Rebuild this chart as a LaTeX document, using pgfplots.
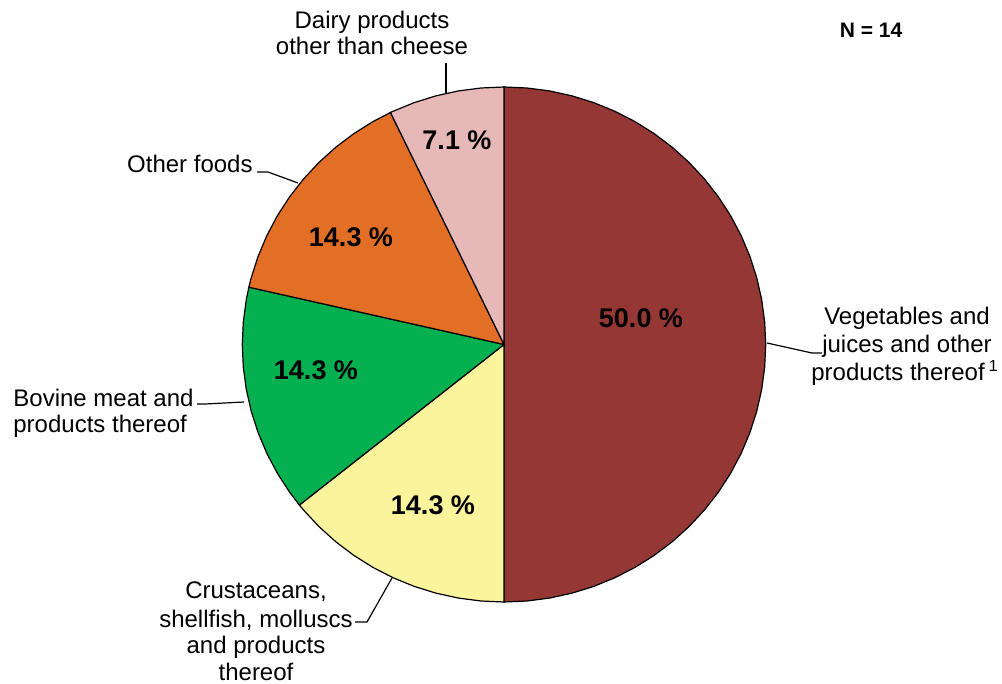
\documentclass[border=0pt]{standalone}
\usepackage{pgfplots}
\pgfplotsset{compat=1.18}
\usepgfplotslibrary{polar}
\usepackage{fontspec}
\setmainfont{Liberation Sans}
\definecolor{cVeg}{HTML}{953735}
\definecolor{cCru}{HTML}{FAF49C}
\definecolor{cBov}{HTML}{05B050}
\definecolor{cOth}{HTML}{E36F27}
\definecolor{cDai}{HTML}{E6B8B7}
\begin{document}
\begin{tikzpicture}
\useasboundingbox (0,0) rectangle (501pt,-342pt);
\begin{polaraxis}[at={(252pt,-172.25pt)}, anchor=center, scale only axis,
  width=261.7pt, height=257.5pt, ymin=0, ymax=1, hide axis, clip=false,
  every axis plot/.append style={draw=black, line width=0.6pt, mark=none, line join=miter}]
% Vegetables and juices ... 50.0 % (7 of 14)
\addplot[fill=cVeg] coordinates {(0,0) (90,1) (85,1) (80,1) (75,1) (70,1) (65,1) (60,1) (55,1) (50,1) (45,1) (40,1) (35,1) (30,1) (25,1) (20,1) (15,1) (10,1) (5,1) (0,1) (-5,1) (-10,1) (-15,1) (-20,1) (-25,1) (-30,1) (-35,1) (-40,1) (-45,1) (-50,1) (-55,1) (-60,1) (-65,1) (-70,1) (-75,1) (-80,1) (-85,1) (-90,1)} -- cycle;
% Crustaceans ... 14.3 % (2 of 14)
\addplot[fill=cCru] coordinates {(0,0) (-90,1) (-95,1) (-100,1) (-105,1) (-110,1) (-115,1) (-120,1) (-125,1) (-130,1) (-135,1) (-140,1) (-141.43,1)} -- cycle;
% Bovine meat ... 14.3 % (2 of 14)
\addplot[fill=cBov] coordinates {(0,0) (-141.43,1) (-145,1) (-150,1) (-155,1) (-160,1) (-165,1) (-170,1) (-175,1) (-180,1) (-185,1) (-190,1) (-192.86,1)} -- cycle;
% Other foods 14.3 % (2 of 14)
\addplot[fill=cOth] coordinates {(0,0) (-192.86,1) (-195,1) (-200,1) (-205,1) (-210,1) (-215,1) (-220,1) (-225,1) (-230,1) (-235,1) (-240,1) (-244.29,1)} -- cycle;
% Dairy products other than cheese 7.1 % (1 of 14)
\addplot[fill=cDai] coordinates {(0,0) (-244.29,1) (-245,1) (-250,1) (-255,1) (-260,1) (-265,1) (-270,1)} -- cycle;
\end{polaraxis}
\begin{scope}[x=0.5pt,y=-0.5pt]
% percentage labels
\begin{scope}[every node/.style={font=\fontsize{13.5}{16}\selectfont\bfseries, anchor=center, inner sep=0pt}]
\node at (641,318) {50.0 \%};
\node at (457,140) {7.1 \%};
\node at (351,237) {14.3 \%};
\node at (316,370) {14.3 \%};
\node at (433,505) {14.3 \%};
\end{scope}
% N
\node[font=\fontsize{10.5}{12}\selectfont\bfseries, anchor=center, inner sep=0pt] at (871,30) {N = 14};
% category labels
\begin{scope}[every node/.style={font=\fontsize{12}{13.5}\selectfont, inner sep=0pt}]
\node[anchor=base] at (372,29) {Dairy products};
\node[anchor=base] at (372,55) {other than cheese};
\node[anchor=base east] at (253,173) {Other foods};
\node[anchor=base] at (907,325) {Vegetables and};
\node[anchor=base] at (907,353) {juices and other};
\node[anchor=base] at (905,380) {products thereof\,\textsuperscript{1}};
\node[anchor=base west] at (13,407) {Bovine meat and};
\node[anchor=base west] at (13,432) {products thereof};
\node[anchor=base] at (256,598) {Crustaceans,};
\node[anchor=base] at (256,627) {shellfish, molluscs};
\node[anchor=base] at (256,653) {and products};
\node[anchor=base] at (256,680) {thereof};
\end{scope}
% leader lines
\begin{scope}[line width=0.6pt]
\draw (446,63) -- (446,93);
\draw (257,172) -- (268,172) -- (298,183);
\draw (767,343) -- (812,353) -- (822,353);
\draw (197,404) -- (205,404) -- (244,402);
\draw (355,622) -- (367,622) -- (392,578);
\end{scope}
\end{scope}
\end{tikzpicture}
\end{document}
